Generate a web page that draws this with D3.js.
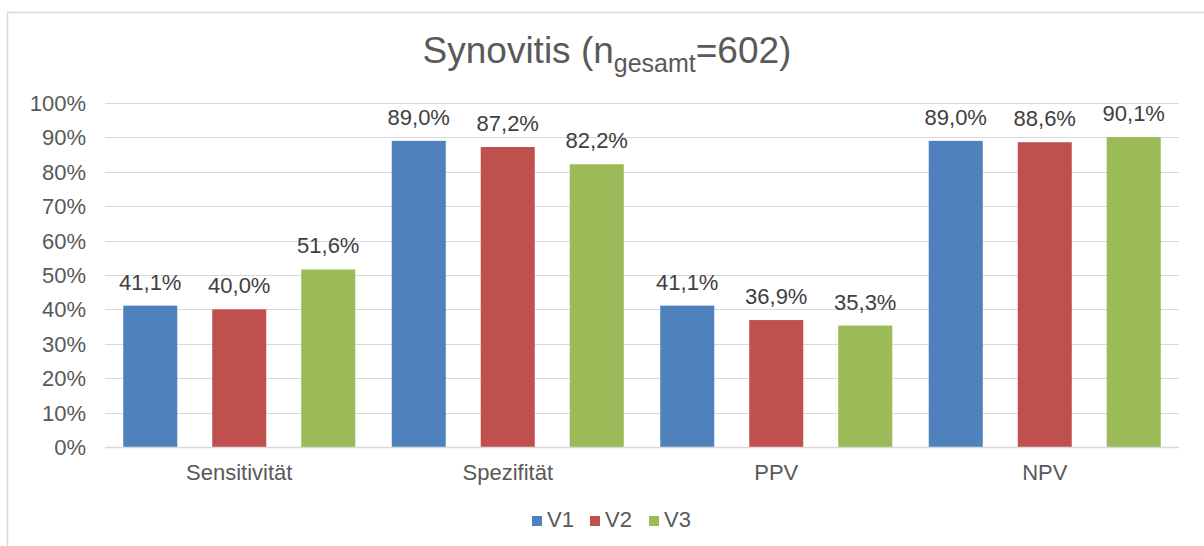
<!DOCTYPE html>
<html lang="de">
<head>
    <meta charset="UTF-8">
    <title>Synovitis</title>
    <script src="https://d3js.org/d3.v7.min.js"></script>
    <style>
        body { margin: 0; background: #fff; }
        svg text { font-family: "Liberation Sans", Arial, sans-serif; }
    </style>
</head>
<body>
    <div id="chart"></div>
    <script>
        // data
        const categories = ["Sensitivität", "Spezifität", "PPV", "NPV"];
        const seriesNames = ["V1", "V2", "V3"];
        const v1 = [0.411, 0.890, 0.411, 0.890];
        const v2 = [0.400, 0.872, 0.369, 0.886];
        const v3 = [0.516, 0.822, 0.353, 0.901];
        const yTicks = [0, 0.1, 0.2, 0.3, 0.4, 0.5, 0.6, 0.7, 0.8, 0.9, 1.0];
        const colors = ["#4f81bd", "#c0504d", "#9bbb59"];

        const width = 1204, height = 546;
        const plot = {left: 105, right: 1179, top: 103, bottom: 447};

        const svg = d3.select("#chart").append("svg")
            .attr("width", width)
            .attr("height", height);

        // chart frame (runs off the right and bottom edge)
        svg.append("path")
            .attr("d", `M7.5,${height + 5} V12.5 H${width + 5}`)
            .attr("fill", "none")
            .attr("stroke", "#d9d9d9")
            .attr("stroke-width", 1.5);

        const x0 = d3.scaleBand().domain(categories).range([plot.left, plot.right]);
        const x1 = d3.scaleBand().domain(seriesNames).range([0, x0.bandwidth()])
            .paddingInner(0.393).paddingOuter(0.205);
        const y = d3.scaleLinear().domain([0, 1]).range([plot.bottom, plot.top]);

        // gridlines
        svg.append("g").selectAll("line")
            .data(yTicks)
            .join("line")
            .attr("x1", plot.left).attr("x2", plot.right)
            .attr("y1", d => Math.round(y(d)) + 0.5).attr("y2", d => Math.round(y(d)) + 0.5)
            .attr("stroke", "#d9d9d9")
            .attr("stroke-width", 1);

        // y axis labels
        const pct = d3.format(".0%");
        svg.append("g").selectAll("text")
            .data(yTicks)
            .join("text")
            .attr("x", 86)
            .attr("y", d => y(d) + 8)
            .attr("text-anchor", "end")
            .attr("font-size", 22)
            .attr("fill", "#595959")
            .text(d => pct(d));

        const rows = categories.map((c, i) => ({cat: c, vals: [v1[i], v2[i], v3[i]]}));
        const fmt = v => (v * 100).toFixed(1).replace(".", ",") + "%";

        const groups = svg.append("g").selectAll("g")
            .data(rows)
            .join("g")
            .attr("transform", d => `translate(${x0(d.cat)},0)`);

        const bars = groups.selectAll("g")
            .data(d => d.vals.map((v, j) => ({name: seriesNames[j], v: v, c: colors[j]})))
            .join("g");

        bars.append("rect")
            .attr("x", d => x1(d.name))
            .attr("width", x1.bandwidth())
            .attr("y", d => y(d.v))
            .attr("height", d => y(0) - y(d.v))
            .attr("fill", d => d.c);

        bars.append("text")
            .attr("x", d => x1(d.name) + x1.bandwidth() / 2)
            .attr("y", d => y(d.v) - 16)
            .attr("text-anchor", "middle")
            .attr("font-size", 22)
            .attr("fill", "#404040")
            .text(d => fmt(d.v));

        // category axis line
        svg.append("line")
            .attr("x1", plot.left).attr("x2", plot.right)
            .attr("y1", plot.bottom + 0.5).attr("y2", plot.bottom + 0.5)
            .attr("stroke", "#d9d9d9")
            .attr("stroke-width", 1.5);

        svg.append("g").selectAll("text")
            .data(categories)
            .join("text")
            .attr("x", d => x0(d) + x0.bandwidth() / 2)
            .attr("y", 480)
            .attr("text-anchor", "middle")
            .attr("font-size", 22)
            .attr("fill", "#595959")
            .text(d => d);

        // title with subscript
        const title = svg.append("text")
            .attr("x", 607)
            .attr("y", 63)
            .attr("text-anchor", "middle")
            .attr("font-size", 37)
            .attr("fill", "#595959");
        title.append("tspan").text("Synovitis (n");
        title.append("tspan").attr("font-size", 25).attr("dy", 9).text("gesamt");
        title.append("tspan").attr("dy", -9).text("=602)");

        // legend
        const legendX = [532, 590, 649];
        const legend = svg.append("g").selectAll("g")
            .data(seriesNames)
            .join("g")
            .attr("transform", (d, i) => `translate(${legendX[i]},516)`);
        legend.append("rect")
            .attr("width", 10).attr("height", 10)
            .attr("fill", (d, i) => colors[i]);
        legend.append("text")
            .attr("x", 15).attr("y", 11)
            .attr("font-size", 22)
            .attr("fill", "#595959")
            .text(d => d);
    </script>
</body>
</html>
